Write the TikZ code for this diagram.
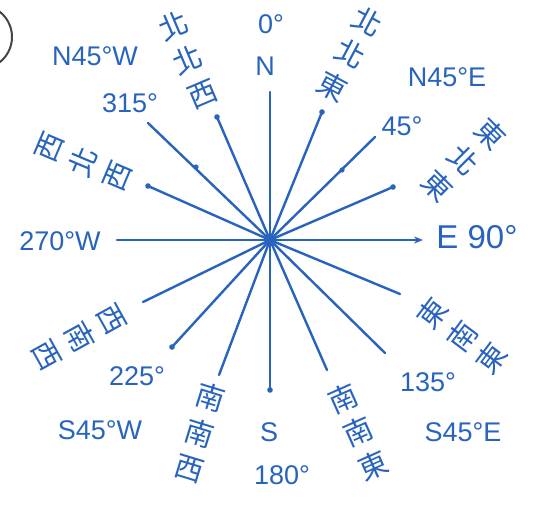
\documentclass[tikz,border=0pt]{standalone}
\usepackage{fontspec}
\setmainfont{Liberation Sans}
\newfontfamily\cjk{Noto Sans CJK TC}
\usetikzlibrary{arrows.meta}
\definecolor{ink}{RGB}{40,100,190}
\definecolor{pencil}{RGB}{70,70,70}
\begin{document}
\begin{tikzpicture}[x=1pt,y=-1pt,
  ray/.style={ink, line width=2.4pt, line cap=round},
  tipdot/.style={ink},
  lab/.style={text=ink, inner sep=0pt, font=\fontsize{27}{30}\selectfont},
  biglab/.style={text=ink, inner sep=0pt, font=\fontsize{33}{36}\selectfont},
  cj/.style={text=ink, inner sep=0pt, align=center, font=\cjk\fontsize{29}{37}\selectfont}]
\fill[white] (0,0) rectangle (551,506);
\useasboundingbox (0,0) rectangle (551,506);
% partial circle at top-left
\coordinate (ring) at (-20,37);
\draw[pencil, line width=2pt] (ring) circle (32);
% centre and ray ends
\coordinate (C) at (270,240);
\coordinate (n) at (270,92);
\coordinate (nne) at (322,112);
\coordinate (ne) at (375,137);
\coordinate (ene) at (393,187);
\coordinate (e) at (423,240);
\coordinate (ese) at (400,294);
\coordinate (se) at (385,353);
\coordinate (sse) at (327,370);
\coordinate (s) at (270,390);
\coordinate (ssw) at (219,375);
\coordinate (sw) at (172,347);
\coordinate (wsw) at (143,302);
\coordinate (w) at (117,240);
\coordinate (wnw) at (148,186);
\coordinate (nw) at (148,123);
\coordinate (nnw) at (217,117);
\foreach \p in {n,nne,ne,ene,ese,se,sse,s,ssw,sw,wsw,w,wnw,nw,nnw}
  \draw[ray] (C) -- (\p);
\draw[ray, -{Stealth[length=9pt,width=7pt]}] (C) -- (e);
% dots on rays
\foreach \p in {nnw,wnw,nne,ene,sw,s}
  \fill[tipdot] (\p) circle (2.8);
\fill[tipdot] (196,167) circle (2.6);
\fill[tipdot] (342,170) circle (2.6);
% labels
\node[lab] (l0) at (271,24) {0°};
\node[lab] (lN) at (265,66) {N};
\node[lab] (lN45W) at (95,56) {N45°W};
\node[lab] (l315) at (130,103) {315°};
\node[lab] (lN45E) at (447,77) {N45°E};
\node[lab] (l45) at (402,126) {45°};
\node[biglab] (lE) at (477,237) {E 90°};
\node[lab] (l270) at (60,241) {270°W};
\node[lab] (l225) at (137,376) {225°};
\node[lab] (lS45W) at (100,430) {S45°W};
\node[lab] (lS) at (269,432) {S};
\node[lab] (l180) at (282,475) {180°};
\node[lab] (l135) at (428,382) {135°};
\node[lab] (lS45E) at (463,432) {S45°E};
% chinese direction names
\node[cj, rotate=23] (tnnw) at (188,60) {北\\北\\西};
\node[cj, rotate=-28] (tnne) at (350,54) {北\\北\\東};
\node[cj, rotate=-45] (tene) at (464,160) {東\\北\\東};
\node[cj, rotate=53] (tese) at (462,336) {東\\南\\東};
\node[cj, rotate=24] (tsse) at (358,432) {南\\南\\東};
\node[cj, rotate=-17] (tssw) at (200,433) {南\\南\\西};
\node[cj, rotate=-61] (twsw) at (79,337) {西\\南\\西};
\node[cj, rotate=67] (twnw) at (84,162) {西\\北\\西};
\end{tikzpicture}
\end{document}
